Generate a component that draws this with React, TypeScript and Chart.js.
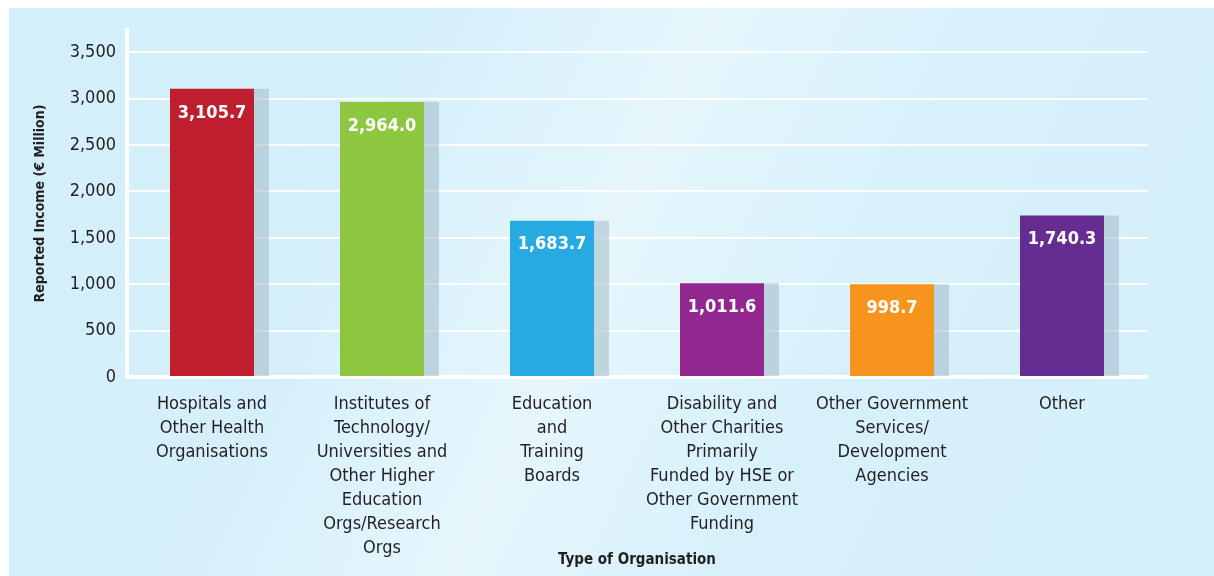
import React, { useEffect, useRef } from "react";
import { Chart, registerables } from "chart.js";

Chart.register(...registerables);

const categories: string[][] = [
  ["Hospitals and", "Other Health", "Organisations"],
  ["Institutes of", "Technology/", "Universities and", "Other Higher", "Education", "Orgs/Research", "Orgs"],
  ["Education", "and", "Training", "Boards"],
  ["Disability and", "Other Charities", "Primarily", "Funded by HSE or", "Other Government", "Funding"],
  ["Other Government", "Services/", "Development", "Agencies"],
  ["Other"],
];
const values: number[] = [3105.7, 2964.0, 1683.7, 1011.6, 998.7, 1740.3];
const valueLabels: string[] = ["3,105.7", "2,964.0", "1,683.7", "1,011.6", "998.7", "1,740.3"];
const barColors: string[] = ["#be1e2d", "#8dc63f", "#27aae1", "#92278f", "#f7941d", "#662d91"];
const yTickValues: number[] = [0, 500, 1000, 1500, 2000, 2500, 3000, 3500];
const yTitle = "Reported Income (€ Million)";
const xTitle = "Type of Organisation";

const FONT = "'Liberation Sans Narrow', 'Arial Narrow', 'DejaVu Sans Condensed', sans-serif";
const TEXT = "#231f20";

const shadowPlugin = {
  id: "barShadow",
  beforeDatasetsDraw(chart: any) {
    const meta = chart.getDatasetMeta(0);
    const ctx = chart.ctx;
    ctx.save();
    ctx.fillStyle = "rgba(160,185,200,0.55)";
    meta.data.forEach((bar: any) => {
      const p = bar.getProps(["x", "y", "base", "width"], true);
      const left = p.x + p.width / 2;
      ctx.fillRect(left, p.y, 15, p.base - p.y);
    });
    ctx.restore();
  },
  afterDatasetsDraw(chart: any) {
    const meta = chart.getDatasetMeta(0);
    const ctx = chart.ctx;
    ctx.save();
    ctx.fillStyle = "#ffffff";
    ctx.font = `bold 18px ${FONT}`;
    ctx.textAlign = "center";
    ctx.textBaseline = "middle";
    meta.data.forEach((bar: any, i: number) => {
      const p = bar.getProps(["x", "y"], true);
      ctx.fillText(valueLabels[i], p.x, p.y + 24);
    });
    ctx.restore();
  },
};

export default function App() {
  const ref = useRef<HTMLCanvasElement | null>(null);
  useEffect(() => {
    if (!ref.current) return;
    const chart = new Chart(ref.current, {
      type: "bar",
      data: {
        labels: categories,
        datasets: [
          {
            data: values,
            backgroundColor: barColors,
            borderWidth: 0,
            categoryPercentage: 1,
            barPercentage: 0.494,
          },
        ],
      },
      plugins: [shadowPlugin],
      options: {
        animation: false,
        responsive: false,
        maintainAspectRatio: false,
        layout: { padding: { left: 0, top: 22, right: 67, bottom: 0 } },
        plugins: { legend: { display: false }, tooltip: { enabled: false } },
        scales: {
          x: {
            grid: { display: false, drawTicks: false },
            border: { display: true, color: "#ffffff", width: 4 },
            ticks: {
              color: TEXT,
              font: { family: FONT, size: 18, lineHeight: 1.333 },
              padding: 15,
              maxRotation: 0,
              autoSkip: false,
            },
            title: {
              display: true,
              text: xTitle,
              color: TEXT,
              font: { family: FONT, size: 15, weight: "bold", lineHeight: 1.2 },
              padding: { top: 0, bottom: 7 },
            },
            afterFit(scale: any) {
              scale.height = 199;
            },
          },
          y: {
            min: 0,
            max: 3740,
            afterBuildTicks(scale: any) {
              scale.ticks = yTickValues.map((v) => ({ value: v }));
            },
            ticks: {
              color: TEXT,
              font: { family: FONT, size: 18 },
              padding: 11,
              callback: (v: any) => Number(v).toLocaleString("en-US"),
            },
            grid: { color: "#ffffff", lineWidth: 2, drawTicks: false },
            border: { display: true, color: "#ffffff", width: 4 },
            title: {
              display: true,
              text: yTitle,
              color: TEXT,
              font: { family: FONT, size: 14, weight: "bold", lineHeight: 1.2 },
              padding: { top: 23, bottom: 0 },
            },
            afterFit(scale: any) {
              scale.width = 118;
            },
          },
        },
      } as any,
    });
    return () => chart.destroy();
  }, []);

  return (
    <div
      style={{
        position: "absolute",
        left: 9,
        top: 8,
        width: 1205,
        height: 568,
        background:
          "linear-gradient(115deg, #d3effa 0%, #d5f0fb 30%, #e6f6fc 48%, #d7f1fb 66%, #d3effa 100%)",
      }}
    >
      <canvas ref={ref} width={1205} height={568} style={{ display: "block", width: 1205, height: 568 }} />
    </div>
  );
}
